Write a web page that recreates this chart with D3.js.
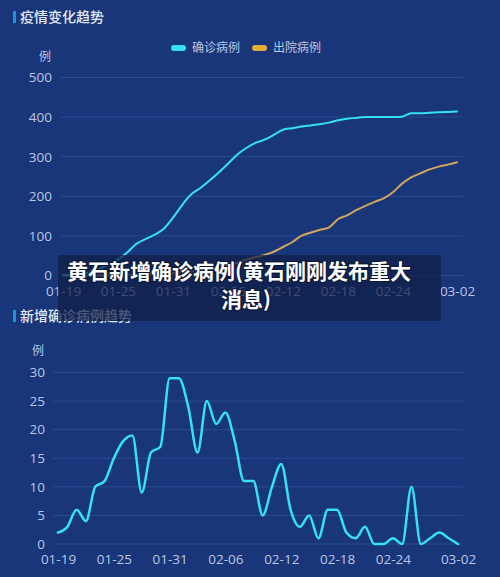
<!DOCTYPE html>
<html>
<head>
<meta charset="utf-8">
<script src="https://cdn.jsdelivr.net/npm/d3@7"></script>
<style>
  html, body { margin: 0; padding: 0; background: #19367a; }
  svg { display: block; font-family: "Noto Sans CJK SC", "Noto Sans", sans-serif; }
</style>
</head>
<body>
<svg id="chart" width="500" height="577"></svg>
<script>
// dates on the x axis, 2020-01-19 .. 2020-03-02
const dates = [
  "01-19","01-20","01-21","01-22","01-23","01-24","01-25","01-26","01-27","01-28","01-29","01-30","01-31",
  "02-01","02-02","02-03","02-04","02-05","02-06","02-07","02-08","02-09","02-10","02-11","02-12","02-13",
  "02-14","02-15","02-16","02-17","02-18","02-19","02-20","02-21","02-22","02-23","02-24","02-25","02-26",
  "02-27","02-28","02-29","03-01","03-02"
];
const tickLabels = ["01-19","01-25","01-31","02-06","02-12","02-18","02-24","03-02"];

// cumulative confirmed / discharged (top chart)
const confirmed = [1,2,4,8,17,29,40,58,80,92,103,118,146,178,205,221,240,260,282,305,322,335,343,355,368,372,
  376,379,382,386,392,396,398,400,400,400,400,401,410,410,411,412,413,414];
const discharged = [0,0,0,0,0,1,1,2,2,3,3,4,6,8,10,14,18,22,27,32,40,46,52,60,72,84,100,108,115,121,142,152,
  165,176,186,195,210,232,248,258,268,275,280,286];

// daily new confirmed (bottom chart)
const dailyNew = [2,3,6,4,10,11,15,18,19,9,16,17,29,29,24,16,25,21,23,18,11,11,5,10,14,6,3,5,1,6,6,2,1,3,
  0,0,1,0,10,0,1,2,1,0];

const topTicks = [0,100,200,300,400,500];
const bottomTicks = [0,5,10,15,20,25,30];

const legendNames = ["确诊病例","出院病例"];
const cyan = "#35e2f2", gold = "#d3a55c", goldLegend = "#e8aa3c";
const gridColor = "#2b4b92", labelColor = "#bcc6e4", titleColor = "#e2e8f6";

const svg = d3.select("#chart");
svg.append("rect").attr("width", 500).attr("height", 577).attr("fill", "#19367a");

function panelTitle(y, text) {
  svg.append("rect").attr("x", 13).attr("y", y - 6).attr("width", 3).attr("height", 12).attr("fill", "#1e92dc");
  svg.append("text").attr("x", 20).attr("y", y + 5).attr("fill", titleColor)
    .attr("font-size", 14).attr("font-weight", 500).text(text);
}

function drawChart(opt) {
  const x = d3.scalePoint().domain(dates).range(opt.xRange);
  const y = d3.scaleLinear().domain([0, opt.max]).range(opt.yRange);

  const g = svg.append("g");
  g.selectAll("line.grid").data(opt.ticks).enter().append("line")
    .attr("class", "grid")
    .attr("x1", opt.gridX[0]).attr("x2", opt.gridX[1])
    .attr("y1", d => y(d)).attr("y2", d => y(d))
    .attr("stroke", gridColor).attr("stroke-width", 1);

  const yAxis = g.append("g")
    .attr("transform", `translate(${opt.labelX},0)`)
    .call(d3.axisLeft(y).tickValues(opt.ticks).tickSize(0).tickPadding(0));
  yAxis.select(".domain").remove();
  yAxis.selectAll("text").attr("fill", labelColor).attr("font-size", 13.5)
    .attr("font-family", "'Open Sans', sans-serif");

  const xAxis = g.append("g")
    .attr("transform", `translate(0,${opt.yRange[0]})`)
    .call(d3.axisBottom(x).tickValues(tickLabels).tickSize(0).tickPadding(opt.xPad));
  xAxis.select(".domain").remove();
  xAxis.selectAll("text").attr("fill", labelColor).attr("font-size", 13.5)
    .attr("font-family", "'Open Sans', sans-serif");

  g.append("text").attr("x", opt.unitX).attr("y", opt.unitY).attr("text-anchor", "middle")
    .attr("fill", labelColor).attr("font-size", 12).text("例");

  opt.series.forEach(s => {
    const line = d3.line()
      .x((d, i) => x(dates[i]))
      .y(d => y(d))
      .curve(d3.curveMonotoneX);
    g.append("path").datum(s.values)
      .attr("d", line).attr("fill", "none")
      .attr("stroke", s.color).attr("stroke-width", s.width)
      .attr("stroke-linejoin", "round").attr("stroke-linecap", "round");
  });
}

// top chart
panelTitle(17, "疫情变化趋势");
const legend = svg.append("g");
[[171, cyan], [252, goldLegend]].forEach((d, i) => {
  legend.append("rect").attr("x", d[0]).attr("y", 45).attr("width", 15).attr("height", 6)
    .attr("rx", 3).attr("fill", d[1]);
  legend.append("text").attr("x", d[0] + 21).attr("y", 52).attr("fill", labelColor)
    .attr("font-size", 12).text(legendNames[i]);
});

drawChart({
  xRange: [63, 457], yRange: [275.5, 77.5], max: 500, ticks: topTicks,
  gridX: [61, 463], labelX: 52, xPad: 11, unitX: 45, unitY: 61,
  series: [
    { values: discharged, color: gold, width: 2 },
    { values: confirmed, color: cyan, width: 2 }
  ]
});

// bottom chart
panelTitle(316, "新增确诊病例趋势");
drawChart({
  xRange: [58, 458], yRange: [544, 372.5], max: 30, ticks: bottomTicks,
  gridX: [53, 463], labelX: 45, xPad: 10, unitX: 38, unitY: 355,
  series: [{ values: dailyNew, color: cyan, width: 2.5 }]
});

// headline banner over the middle
svg.append("rect").attr("x", 58).attr("y", 255).attr("width", 383).attr("height", 66)
  .attr("fill", "#0f1d45").attr("fill-opacity", 0.72);
const headline = svg.append("g").attr("font-size", 21).attr("font-weight", 700)
  .attr("fill", "#ffffff").attr("text-anchor", "middle")
  .attr("stroke", "#0b1535").attr("stroke-width", 2).attr("paint-order", "stroke");
headline.append("text").attr("x", 239).attr("y", 279).text("黄石新增确诊病例(黄石刚刚发布重大");
headline.append("text").attr("x", 246).attr("y", 307).text("消息)");
</script>
</body>
</html>
